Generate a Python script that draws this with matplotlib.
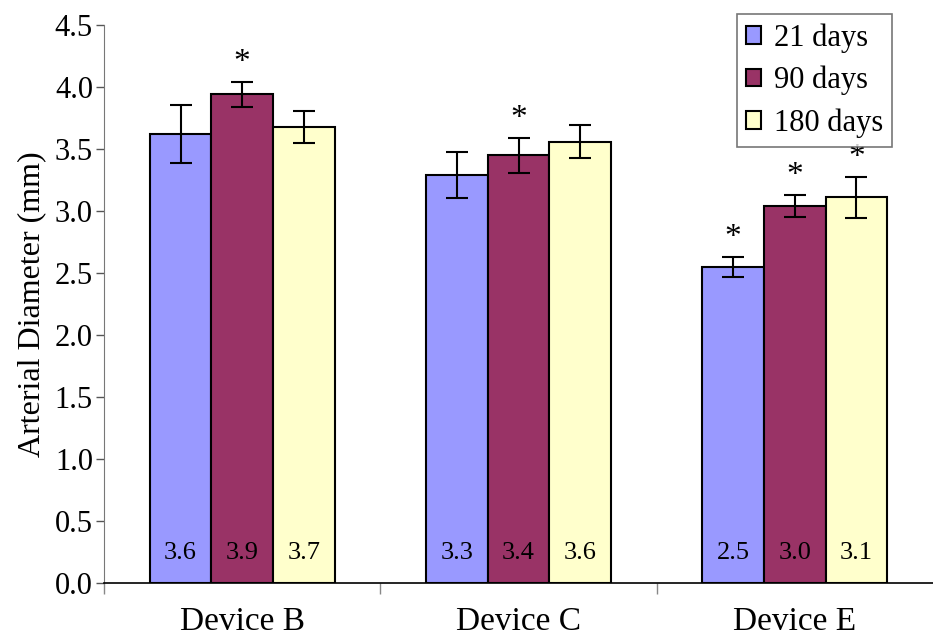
import numpy as np
import matplotlib
matplotlib.use('agg')
from matplotlib import pyplot as plt

plt.rcParams["font.family"] = ["Liberation Serif", "DejaVu Serif"]

devices = ['Device B', 'Device C', 'Device E']
series = ['21 days', '90 days', '180 days']
colors = ['#9999FF', '#993366', '#FFFFCC']

means = [[3.62, 3.29, 2.55],
         [3.94, 3.45, 3.04],
         [3.68, 3.56, 3.11]]
errs = [[0.235, 0.185, 0.08],
        [0.10, 0.14, 0.09],
        [0.13, 0.13, 0.165]]
labels = [['3.6', '3.3', '2.5'],
          ['3.9', '3.4', '3.0'],
          ['3.7', '3.6', '3.1']]
stars = [[False, False, True],
         [True, True, True],
         [False, False, True]]

fig = plt.figure(figsize=(9.33, 6.36), dpi=100)
ax = fig.add_axes([0.1115, 0.0833, 0.8885, 0.8774])

x = np.arange(len(devices))
w = 0.223
for i in range(3):
    pos = x + (i - 1) * w
    ax.bar(pos, means[i], w, color=colors[i], edgecolor='black', linewidth=1.5,
           label=series[i], zorder=2)
    ax.errorbar(pos, means[i], yerr=errs[i], fmt='none', ecolor='black',
                elinewidth=1.5, capsize=8, capthick=1.5, zorder=3)
    for j in range(3):
        ax.text(pos[j], 0.24, labels[i][j], ha='center', va='center', fontsize=19)
        if stars[i][j]:
            ax.text(pos[j], means[i][j] + errs[i][j] + 0.03, '*', ha='center',
                    va='bottom', fontsize=24)

ax.set_xlim(-0.5, 2.5)
ax.set_ylim(0, 4.5)
ax.set_yticks(np.arange(0, 4.51, 0.5))
ax.set_yticklabels(['%.1f' % v for v in np.arange(0, 4.51, 0.5)], fontsize=22)
ax.set_ylabel('Arterial Diameter (mm)', fontsize=23, labelpad=6)
ax.tick_params(axis='y', direction='out', length=6, width=1, color='#555555', pad=2)

ax.set_xticks([-0.5, 0.5, 1.5])
ax.set_xticklabels([])
ax.tick_params(axis='x', direction='out', length=8, width=1, color='#888888')
for j, d in enumerate(devices):
    ax.text(x[j], -0.315, d, ha='center', va='center', fontsize=24,
            transform=ax.transData)

ax.spines['top'].set_visible(False)
ax.spines['right'].set_visible(False)
ax.spines['left'].set_color('#777777')
ax.spines['bottom'].set_linewidth(1.2)

leg = ax.legend(loc='upper right', bbox_to_anchor=(0.958, 1.03), fontsize=22,
                frameon=True, fancybox=False, edgecolor='#555555',
                handlelength=0.5, handleheight=0.5, handletextpad=0.4,
                labelspacing=0.42, borderpad=0.3, borderaxespad=0.2)
leg.get_frame().set_linewidth(1.2)

fig.savefig('out.png', dpi=100)
